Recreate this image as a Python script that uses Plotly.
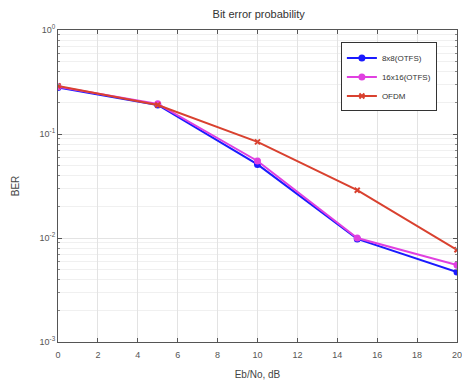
import plotly.graph_objects as go

snr_db = [0, 5, 10, 15, 20]
ber_8x8 = [0.28, 0.19, 0.051, 0.0098, 0.0047]
ber_16x16 = [0.285, 0.195, 0.055, 0.0100, 0.0055]
ber_ofdm = [0.29, 0.19, 0.084, 0.0288, 0.0077]
names = ["8x8(OTFS)", "16x16(OTFS)", "OFDM"]
colors = ["#1a1aff", "#e040e0", "#d9412f"]
symbols = ["circle", "circle", "x-thin"]
minor_vals = [m * 10.0 ** e for e in (-3, -2, -1) for m in range(2, 10)]

fig = go.Figure()
for ys, n, c, s in zip([ber_8x8, ber_16x16, ber_ofdm], names, colors, symbols):
    fig.add_trace(go.Scatter(
        x=snr_db, y=ys, name=n, mode="lines+markers",
        line=dict(color=c, width=2),
        marker=dict(symbol=s, size=5, color=c, line=dict(color=c, width=2)),
    ))

fig.update_layout(
    width=462, height=384,
    margin=dict(l=58, r=5, t=30, b=42),
    paper_bgcolor="white", plot_bgcolor="white",
    font=dict(family="Liberation Sans, Arial, sans-serif", size=9, color="#555"),
    title=dict(text="Bit error probability", x=0.56, xanchor="center", y=0.962,
               yanchor="middle", font=dict(size=11, color="#333")),
    showlegend=True,
    legend=dict(x=0.709, y=0.96, xanchor="left", yanchor="top",
                bgcolor="white", bordercolor="#333", borderwidth=1,
                font=dict(size=8, color="#333"), tracegroupgap=0,
                itemwidth=30),
)
fig.update_xaxes(
    range=[0, 20.001], tickvals=list(range(0, 21, 2)), automargin=False,
    showgrid=True, gridcolor="#e3e3e3", gridwidth=1,
    showline=True, linecolor="#555", linewidth=1, mirror="ticks",
    ticks="inside", ticklen=4, tickcolor="#555", ticklabelstandoff=4,
    zeroline=False,
    title=dict(text="Eb/No, dB", font=dict(size=10, color="#444"), standoff=12),
)
fig.update_yaxes(
    type="log", range=[-3, 0], automargin=False,
    tickvals=[0.001, 0.01, 0.1, 1],
    ticktext=["10<sup>-3</sup>", "10<sup>-2</sup>", "10<sup>-1</sup>", "10<sup>0</sup>"],
    showgrid=True, gridcolor="#e3e3e3", gridwidth=1,
    minor=dict(tickvals=minor_vals, showgrid=True, gridcolor="#f0f0f0",
               ticks="inside", ticklen=2, tickcolor="#888"),
    showline=True, linecolor="#555", linewidth=1, mirror="ticks",
    ticks="inside", ticklen=4, tickcolor="#555",
    title=dict(text="BER", font=dict(size=10, color="#444"), standoff=18),
)

fig.write_html("out.html")
